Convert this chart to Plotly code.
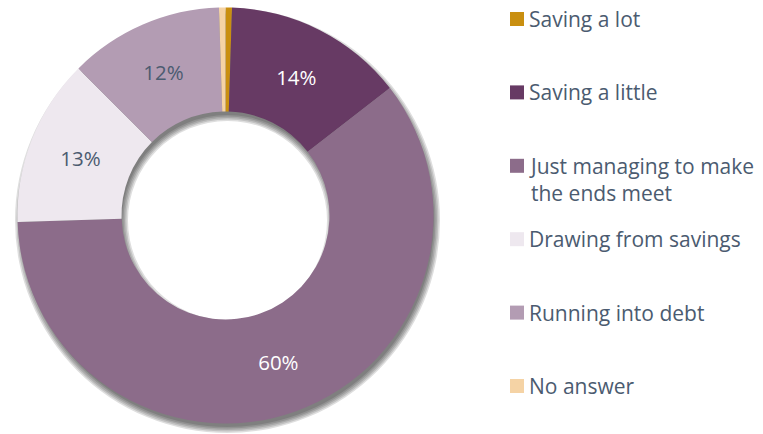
import textwrap
import plotly.graph_objects as go

# Survey answers: how households are coping financially (share of respondents, %)
labels = [
    "Saving a lot",
    "Saving a little",
    "Just managing to make the ends meet",
    "Drawing from savings",
    "Running into debt",
    "No answer",
]
values = [0.5, 14, 60, 13, 12, 0.5]
colors = ["#C98F10", "#673A64", "#8C6C8A", "#EEE8EF", "#B39CB3", "#F5D3A5"]
label_colors = ["#4B5B70", "#FFFFFF", "#FFFFFF", "#4B5B70", "#4B5B70", "#4B5B70"]

W, H = 763, 434
FONT = "Open Sans"
TEXT_COLOR = "#4B5B70"

# pie geometry in pixels
CX, CY, R, R_IN = 225.5, 215.5, 208.0, 104.0


def domain(cx, cy, r):
    return dict(x=[(cx - r) / W, (cx + r) / W],
                y=[1 - (cy + r) / H, 1 - (cy - r) / H])


fig = go.Figure()

# soft drop shadow: a few translucent rings offset down and to the right
for spread in [4.5, 3.0, 1.5, 0.0, -1.5]:
    fig.add_trace(go.Pie(
        values=[1],
        marker=dict(colors=["rgba(0,0,0,0.13)"], line=dict(width=0)),
        hole=(R_IN - spread) / (R + spread),
        domain=domain(CX + 2, CY + 5, R + spread),
        textinfo="none",
        hoverinfo="skip",
        showlegend=False,
        sort=False,
    ))

pct_text = [f"{v:.0f}%" if v >= 1 else "" for v in values]

fig.add_trace(go.Pie(
    labels=labels,
    values=values,
    text=pct_text,
    textinfo="text",
    textposition="inside",
    insidetextorientation="horizontal",
    insidetextfont=dict(family=FONT, size=20.5, color=label_colors),
    marker=dict(colors=colors, line=dict(width=0)),
    hole=R_IN / R,
    domain=domain(CX, CY, R),
    direction="clockwise",
    rotation=0,
    sort=False,
    showlegend=False,
    hovertemplate="%{label}: %{value}%<extra></extra>",
))

# legend on the right: colour square + wrapped label
shapes, annotations = [], []
LX, SQ = 510, 14
Y0, STEP, LINE_H = 19, 73.4, 27.5
for i, (lab, col) in enumerate(zip(labels, colors)):
    cy = Y0 + i * STEP
    lines = textwrap.wrap(lab, width=21)
    shapes.append(dict(
        type="rect", xref="paper", yref="paper",
        x0=LX / W, x1=(LX + SQ) / W,
        y0=1 - (cy + SQ / 2) / H, y1=1 - (cy - SQ / 2) / H,
        fillcolor=col, line=dict(width=0),
    ))
    block_cy = cy + (len(lines) - 1) * LINE_H / 2
    annotations.append(dict(
        xref="paper", yref="paper",
        x=(LX + SQ + 3) / W, y=1 - block_cy / H,
        xanchor="left", yanchor="middle", align="left",
        text="<br>".join(lines), showarrow=False,
        font=dict(family=FONT, size=21, color=TEXT_COLOR),
    ))

fig.update_layout(
    width=W, height=H,
    margin=dict(l=0, r=0, t=0, b=0),
    paper_bgcolor="white",
    plot_bgcolor="white",
    font=dict(family=FONT, color=TEXT_COLOR),
    shapes=shapes,
    annotations=annotations,
)

fig.write_html("out.html")
